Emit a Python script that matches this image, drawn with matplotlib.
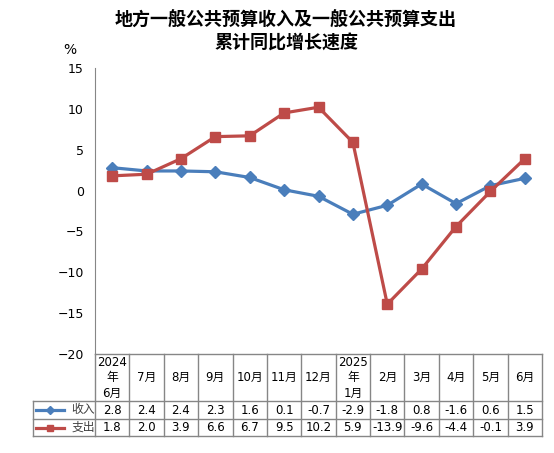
import matplotlib
matplotlib.use('Agg')
import matplotlib.pyplot as plt
from matplotlib.lines import Line2D
from matplotlib.transforms import blended_transform_factory

plt.rcParams['font.family'] = ['DejaVu Sans', 'Noto Sans CJK SC']

months = ['2024\n年\n6月', '7月', '8月', '9月', '10月', '11月', '12月',
          '2025\n年\n1月', '2月', '3月', '4月', '5月', '6月']
income = [2.8, 2.4, 2.4, 2.3, 1.6, 0.1, -0.7, -2.9, -1.8, 0.8, -1.6, 0.6, 1.5]
spend = [1.8, 2.0, 3.9, 6.6, 6.7, 9.5, 10.2, 5.9, -13.9, -9.6, -4.4, -0.1, 3.9]
series = [('收入', income, '#4A7EBB', 'D', 6), ('支出', spend, '#BE4B48', 's', 7)]

fig = plt.figure(figsize=(5.54, 4.53), dpi=100)
ax = fig.add_axes([95/554, 1-354/453, 447/554, 286/453])

x = list(range(len(months)))
for name, vals, col, mk, ms in series:
    ax.plot(x, vals, color=col, lw=2.3, marker=mk, ms=ms, mec=col, mfc=col)

ax.set_xlim(-0.5, len(months) - 0.5)
ax.set_ylim(-20, 15)
ax.set_yticks(range(-20, 16, 5))
ax.set_xticks([])
ax.tick_params(axis='y', length=0, labelsize=9, pad=8)
for s in ['top', 'right', 'bottom']:
    ax.spines[s].set_visible(False)
ax.spines['left'].set_color('#868686')

fig.text(70/554, 1-50/453, '%', fontsize=10, ha='center', va='center')
fig.text(286/554, 1-20/453, '地方一般公共预算收入及一般公共预算支出',
         fontsize=13, fontweight='bold', family=['Noto Sans CJK SC'],
         ha='center', va='center')
fig.text(286/554, 1-43/453, '累计同比增长速度',
         fontsize=13, fontweight='bold', family=['Noto Sans CJK SC'],
         ha='center', va='center')

# data table under the axis
tr = blended_transform_factory(ax.transData, ax.transAxes)
h = 286.0
y_head, y_r1, y_r2 = -47/h, -65/h, -82/h
gray = '#868686'
n = len(months)
kw = dict(transform=tr, clip_on=False, color=gray, lw=1)
# horizontal lines
ax.add_line(Line2D([-0.5, n-0.5], [0, 0], **kw))
ax.add_line(Line2D([-0.5 - 62/447*n, n-0.5], [y_head, y_head], **kw))
ax.add_line(Line2D([-0.5 - 62/447*n, n-0.5], [y_r1, y_r1], **kw))
ax.add_line(Line2D([-0.5 - 62/447*n, n-0.5], [y_r2, y_r2], **kw))
# vertical lines
for i in range(n + 1):
    ax.add_line(Line2D([i-0.5, i-0.5], [0 if True else y_head, y_r2], **kw))
ax.add_line(Line2D([-0.5 - 62/447*n]*2, [y_head, y_r2], **kw))

for i, m in enumerate(months):
    ax.text(i, y_head/2, m, transform=tr, ha='center', va='center',
            fontsize=8.5, linespacing=1.25)
    ax.text(i, (y_head+y_r1)/2, f'{income[i]:.1f}', transform=tr,
            ha='center', va='center', fontsize=8.5)
    ax.text(i, (y_r1+y_r2)/2, f'{spend[i]:.1f}', transform=tr,
            ha='center', va='center', fontsize=8.5)

# legend keys in the row labels
for (name, vals, col, mk, ms), (ya, yb) in zip(series, [(y_head, y_r1), (y_r1, y_r2)]):
    yc = (ya + yb) / 2
    fig.text(83/554, 1-(354 + (-yc)*h)/453, name, fontsize=8.5,
             family=['Noto Sans CJK SC'], ha='center', va='center', color='#404040')
    xl = [36/554, 64/554]
    yy = 1-(354 + (-yc)*h)/453
    fig.add_artist(Line2D(xl, [yy, yy], color=col, lw=2.3))
    fig.add_artist(Line2D([50/554], [yy], color=col, marker=mk, ms=ms-2, mec=col, mfc=col))

fig.savefig('out.png', dpi=100)
